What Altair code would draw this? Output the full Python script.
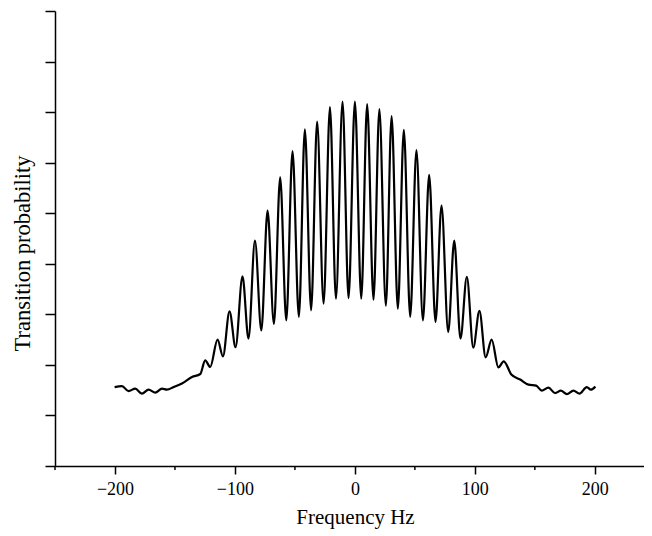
import altair as alt
import pandas as pd

# Frequency detuning (Hz) of the read-off peaks / troughs of the Ramsey pattern
freq_hz = [-200.3, -194.2, -188.7, -183.1, -177.5, -172.0, -166.4, -160.8, -156.7, -151.2,
           -144.2, -135.8, -128.9,
           -124.8, -120.6, -114.5, -110.0, -104.5, -99.5, -93.7, -88.7, -83.3, -78.0,
           -72.8, -67.5, -62.3, -57.2, -52.0, -46.7, -41.7, -36.5, -31.5, -26.1,
           -20.8, -15.8, -10.3, -5.3,
           0.0, 5.3, 10.2, 15.5, 20.4, 25.8, 30.6, 35.8, 40.8, 46.1, 51.3, 56.7,
           61.9, 67.2, 72.2, 77.8, 82.8, 88.0, 93.3, 98.7, 103.8, 109.0, 114.0,
           119.6, 124.1, 130.4,
           137.8, 144.7, 151.1, 155.8, 161.3, 166.9, 171.7, 176.7, 182.2, 187.2,
           193.3, 196.7, 200.5]

# Transition probability at those frequencies
prob = [0.156, 0.158, 0.148, 0.153, 0.143, 0.151, 0.145, 0.153, 0.151, 0.156,
        0.163, 0.176, 0.182,
        0.209, 0.196, 0.250, 0.217, 0.306, 0.235, 0.375, 0.252, 0.446, 0.268,
        0.505, 0.281, 0.571, 0.288, 0.623, 0.295, 0.666, 0.308, 0.681, 0.321,
        0.710, 0.331, 0.721, 0.332,
        0.721, 0.331, 0.716, 0.329, 0.706, 0.317, 0.692, 0.311, 0.665, 0.295,
        0.625, 0.288, 0.576, 0.285, 0.515, 0.265, 0.446, 0.252, 0.374, 0.234,
        0.307, 0.215, 0.250, 0.195, 0.207, 0.181,
        0.171, 0.161, 0.159, 0.149, 0.155, 0.144, 0.149, 0.142, 0.149, 0.143,
        0.156, 0.151, 0.157]

x_major_ticks = [-200, -100, 0, 100, 200]
x_minor_ticks = [-250, -150, -50, 50, 150]
y_ticks = [0.0, 0.1, 0.2, 0.3, 0.4, 0.5, 0.6, 0.7, 0.8, 0.9]

assert len(freq_hz) == len(prob)

X_MIN, X_MAX = -250, 241
W, H = round((X_MAX - X_MIN) * 1.2), 455
FONT = "Liberation Serif"

df = pd.DataFrame({"freq": freq_hz, "prob": prob})
minor_df = pd.DataFrame({"freq": x_minor_ticks})

xscale = alt.Scale(domain=[X_MIN, X_MAX], nice=False, zero=False)
yscale = alt.Scale(domain=[0, 0.9], nice=False, zero=True)

line = alt.Chart(df).mark_line(
    color="black", strokeWidth=2.2, interpolate="monotone"
).encode(
    x=alt.X("freq:Q", scale=xscale,
            axis=alt.Axis(values=x_major_ticks, title="Frequency Hz", grid=False,
                          tickSize=8, tickWidth=1.5, tickColor="black",
                          domainColor="black", domainWidth=1.5,
                          labelFont=FONT, labelFontSize=18, labelColor="black",
                          labelPadding=6, labelFlush=False,
                          titleFont=FONT, titleFontSize=21, titleFontWeight="normal",
                          titleColor="black", titlePadding=8, titleX=300)),
    y=alt.Y("prob:Q", scale=yscale,
            axis=alt.Axis(values=y_ticks, labels=False, title="Transition probability",
                          grid=False, tickSize=10, tickWidth=1.5, tickColor="black",
                          domainColor="black", domainWidth=1.5,
                          titleFont=FONT, titleFontSize=22.5, titleFontWeight="normal",
                          titleColor="black", titlePadding=10, titleY=242)),
)

minor = alt.Chart(minor_df).mark_rule(color="black", strokeWidth=1.5).encode(
    x=alt.X("freq:Q", scale=xscale),
    y=alt.value(H),
    y2=alt.value(H + 4),
)

chart = alt.layer(line, minor).properties(
    width=W, height=H,
    padding={"top": 2, "left": 3, "right": 0, "bottom": 3},
    background="white",
).configure_view(stroke=None)

chart.save("out.html", embed_options={"renderer": "svg", "actions": False})
